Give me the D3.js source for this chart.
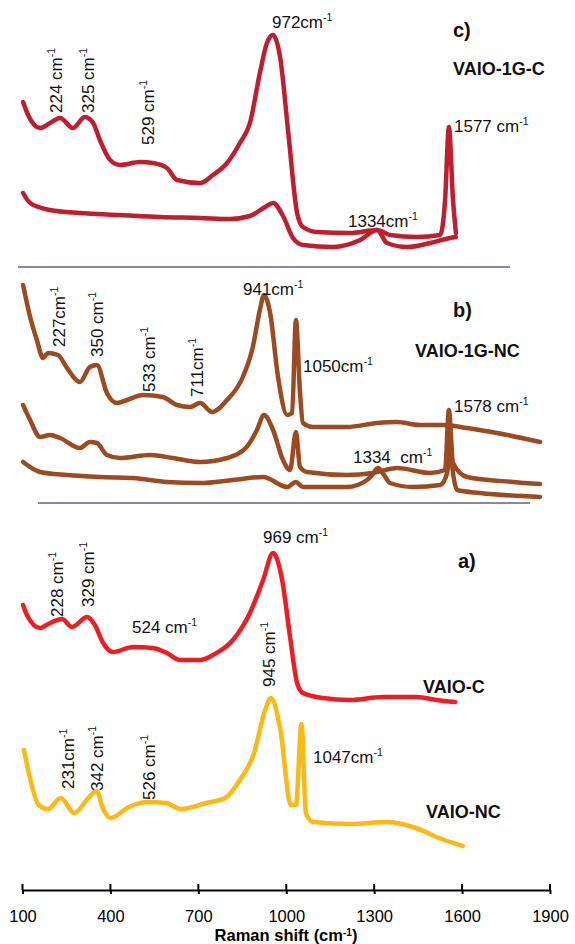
<!DOCTYPE html>
<html>
<head>
<meta charset="utf-8">
<script src="https://cdn.jsdelivr.net/npm/d3@7"></script>
<style>
  html, body { margin: 0; padding: 0; background: #fff; }
  svg { display: block; font-family: "Liberation Sans", Arial, Helvetica, sans-serif; }
</style>
</head>
<body>
<div id="chart"></div>
<script>
// ===============================
// DATA  [Raman shift (cm-1), stacked intensity (a.u.)]
// ===============================
const ticks = [100, 400, 700, 1000, 1300, 1600, 1900];

// c) VAIO-1G-C
const c1GTop = [[102,778],[119,765],[160,752],[194,757],[228,762],[272,752],[313,763],[341,757],[364,740],
  [399,720],[433,715],[501,718],[545,717],[593,712],[627,700],[706,697],[750,705],[798,717],[842,737],
  [876,757],[910,807],[934,837],[955,845],[979,823],[1007,747],[1037,667],[1057,653],[1105,648],
  [1218,647],[1310,650],[1354,645],[1446,643],[1525,645],[1542,680],[1555,753],[1569,680],[1579,647]];
const c1GLow = [[102,687],[126,677],[194,670],[296,667],[433,665],[569,663],[706,662],[808,661],[876,664],
  [928,673],[955,677],[989,664],[1023,642],[1057,635],[1160,633],[1252,640],[1310,650],[1344,637],
  [1412,633],[1491,637],[1559,642],[1579,643]];

// b) VAIO-1G-NC
const nc1GTop = [[102,595],[126,563],[149,540],[170,522],[187,527],[221,525],[252,512],[296,498],[330,513],
  [354,515],[388,487],[422,477],[457,480],[511,485],[579,483],[627,475],[672,473],[706,477],[747,468],
  [798,480],[852,503],[886,533],[910,570],[924,585],[945,567],[972,503],[1003,465],[1020,467],[1033,560],
  [1047,487],[1057,457],[1091,453],[1207,453],[1310,457],[1378,458],[1456,455],[1535,455],[1617,452],
  [1719,447],[1866,438]];
const nc1GMid = [[102,475],[126,460],[160,443],[194,445],[228,442],[296,432],[330,438],[354,437],[388,425],
  [433,422],[535,425],[614,422],[706,418],[798,422],[865,433],[900,450],[924,465],[955,450],[989,420],
  [1013,410],[1033,448],[1047,413],[1071,408],[1207,405],[1296,407],[1378,412],[1491,407],[1542,410],
  [1555,470],[1569,417],[1617,403],[1774,398],[1866,396]];
const nc1GLow = [[102,418],[160,408],[252,405],[364,403],[477,402],[593,398],[706,397],[818,400],[921,403],
  [1003,393],[1033,398],[1057,393],[1207,393],[1276,400],[1293,405],[1313,412],[1334,405],[1354,397],
  [1432,393],[1525,395],[1549,407],[1559,435],[1569,407],[1583,390],[1661,387],[1866,383]];

// a) VAIO-C / VAIO-NC
const vaioC = [[102,275],[115,265],[160,252],[194,257],[235,261],[269,253],[320,263],[347,255],[375,237],
  [409,228],[477,233],[545,232],[593,227],[637,220],[706,220],[750,225],[818,240],[876,267],[921,300],
  [955,327],[986,300],[1013,243],[1037,197],[1057,187],[1125,182],[1218,180],[1330,183],[1446,183],
  [1514,180],[1576,178]];
const vaioNC = [[105,130],[124,104],[155,75],[187,71],[231,82],[276,67],[325,82],[353,89],[375,71],[401,62],
  [463,73],[525,78],[590,77],[640,71],[726,77],[791,82],[842,100],[889,126],[928,170],[948,182],[979,152],
  [1016,75],[1033,75],[1052,156],[1067,67],[1091,58],[1218,56],[1344,58],[1432,53],[1531,41],[1602,34]];

// ===============================
// RENDER
// ===============================
const width = 575, height = 944;

const svg = d3.select('#chart').append('svg')
  .attr('width', width)
  .attr('height', height);

const x = d3.scaleLinear().domain([100, 1900]).range([22.5, 550]);
const y = d3.scaleLinear().domain([0, 880]).range([880, 0]);

const series = [
  { data: c1GLow, color: '#be1e2d' },
  { data: c1GTop, color: '#be1e2d' },
  { data: nc1GLow, color: '#9c4a21' },
  { data: nc1GMid, color: '#9c4a21' },
  { data: nc1GTop, color: '#9c4a21' },
  { data: vaioNC, color: '#fdb913' },
  { data: vaioC, color: '#ee1d24' }
];

const line = d3.line()
  .x(d => x(d[0]))
  .y(d => y(d[1]))
  .curve(d3.curveMonotoneX);

svg.append('g')
  .selectAll('path')
  .data(series)
  .enter()
  .append('path')
  .attr('d', d => line(d.data))
  .attr('fill', 'none')
  .attr('stroke', d => d.color)
  .attr('stroke-width', 4.5)
  .attr('stroke-linejoin', 'round')
  .attr('stroke-linecap', 'round');

// panel separators
[[18, 510, 267], [38, 530, 503]].forEach(s => {
  svg.append('line')
    .attr('x1', s[0]).attr('x2', s[1])
    .attr('y1', s[2]).attr('y2', s[2])
    .attr('stroke', '#5d6091')
    .attr('stroke-width', 1.5);
});

// peak labels
const peakLabels = [
  { t: '972cm', x: 272, y: 28 },
  { t: '1577 cm', x: 454, y: 132 },
  { t: '1334cm', x: 348, y: 227 },
  { t: '224 cm', x: 62, y: 113, rot: true },
  { t: '325 cm', x: 94, y: 113, rot: true },
  { t: '529 cm', x: 154, y: 145, rot: true },
  { t: '941cm', x: 243, y: 295 },
  { t: '1050cm', x: 303, y: 372 },
  { t: '1578 cm', x: 454, y: 412 },
  { t: '1334  cm', x: 353, y: 463 },
  { t: '227cm', x: 65, y: 347, rot: true },
  { t: '350 cm', x: 103, y: 357, rot: true },
  { t: '533 cm', x: 155, y: 392, rot: true },
  { t: '711cm', x: 203, y: 397, rot: true },
  { t: '969 cm', x: 263, y: 543 },
  { t: '524 cm', x: 132, y: 633 },
  { t: '1047cm', x: 313, y: 763 },
  { t: '228 cm', x: 63, y: 617, rot: true },
  { t: '329 cm', x: 94, y: 607, rot: true },
  { t: '945 cm', x: 275, y: 687, rot: true },
  { t: '231cm', x: 74, y: 789, rot: true },
  { t: '342 cm', x: 103, y: 791, rot: true },
  { t: '526 cm', x: 155, y: 800, rot: true }
];

peakLabels.forEach(l => {
  const t = svg.append('text')
    .attr('font-size', 17)
    .attr('fill', '#111')
    .style('white-space', 'pre');
  if (l.rot) t.attr('transform', `translate(${l.x},${l.y}) rotate(-90)`);
  else t.attr('x', l.x).attr('y', l.y);
  t.append('tspan').text(l.t);
  t.append('tspan').attr('font-size', 10.5).attr('dy', -7).text('-1');
});

// panel titles
const panelLabels = [
  { t: 'c)', x: 453, y: 37, size: 20 },
  { t: 'VAIO-1G-C', x: 453, y: 75, size: 18 },
  { t: 'b)', x: 453, y: 317, size: 20 },
  { t: 'VAIO-1G-NC', x: 415, y: 357, size: 18 },
  { t: 'a)', x: 458, y: 568, size: 20 },
  { t: 'VAIO-C', x: 423, y: 693, size: 18 },
  { t: 'VAIO-NC', x: 426, y: 818, size: 18 }
];

svg.append('g')
  .selectAll('text')
  .data(panelLabels)
  .enter()
  .append('text')
  .attr('x', d => d.x)
  .attr('y', d => d.y)
  .attr('font-size', d => d.size)
  .attr('font-weight', 'bold')
  .attr('fill', '#111')
  .text(d => d.t);

// ===============================
// X AXIS
// ===============================
const axisY = 890;
const minor = d3.range(100, 1901, 60).filter(v => !ticks.includes(v));

const gx = svg.append('g')
  .attr('transform', `translate(0,${axisY})`);

gx.call(d3.axisBottom(x).tickValues(minor).tickSize(4).tickSizeOuter(0).tickFormat(''));
gx.call(d3.axisBottom(x).tickValues(ticks).tickSize(4).tickSizeOuter(0).tickFormat(d3.format('d')));

gx.selectAll('path.domain').attr('stroke', '#000').attr('stroke-width', 2);
gx.selectAll('.tick line').attr('stroke', '#000').attr('stroke-width', 2);
gx.selectAll('.tick text')
  .attr('y', 32)
  .attr('dy', 0)
  .attr('font-size', 16.5)
  .attr('font-family', '"Liberation Sans", Arial, sans-serif')
  .attr('fill', '#000');

gx.selectAll('.major')
  .data(ticks)
  .enter()
  .append('line')
  .attr('x1', d => x(d)).attr('x2', d => x(d))
  .attr('y1', -6).attr('y2', 0)
  .attr('stroke', '#000')
  .attr('stroke-width', 2);

const title = svg.append('text')
  .attr('x', 286)
  .attr('y', 940.5)
  .attr('text-anchor', 'middle')
  .attr('font-size', 16.5)
  .attr('font-weight', 'bold')
  .attr('fill', '#000');
title.append('tspan').text('Raman shift (cm');
title.append('tspan').attr('font-size', 10).attr('dy', -5).text('-1');
title.append('tspan').attr('dy', 5).text(')');
</script>
</body>
</html>
